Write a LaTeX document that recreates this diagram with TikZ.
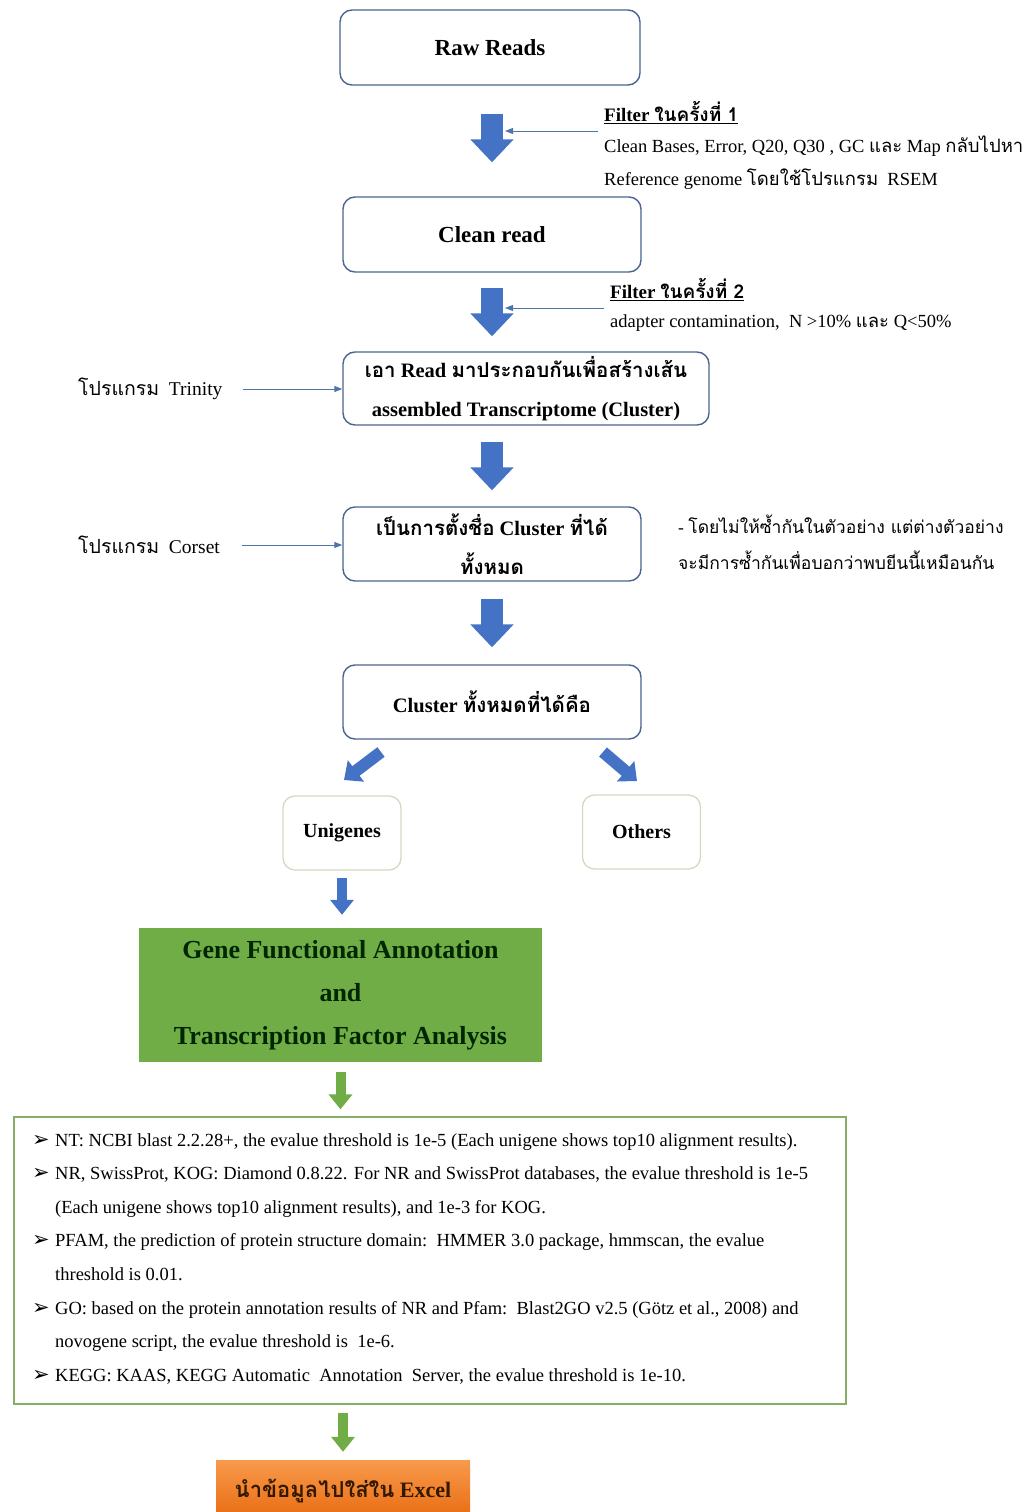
\documentclass[tikz,border=0pt]{standalone}
\usepackage{fontspec}
\setmainfont{Liberation Serif}
\newfontfamily\thai[Script=Thai]{Loma}
\newfontfamily\dingfont{DejaVu Sans}
\usetikzlibrary{positioning,arrows.meta}

\definecolor{boxline}{HTML}{4A6591}
\definecolor{blockblue}{HTML}{4472C4}
\definecolor{thinblue}{HTML}{4F74AA}
\definecolor{paleline}{HTML}{CFDCC2}
\definecolor{annogreen}{HTML}{70AD47}
\definecolor{listline}{HTML}{86AE66}
\definecolor{ortop}{HTML}{F89A4C}
\definecolor{orbot}{HTML}{E8690E}

\newcommand{\bul}{\makebox[23pt][l]{\dingfont\fontsize{21}{21}\selectfont ➢}}

\tikzset{
  flowbox/.style={draw=boxline, line width=1.4pt, rounded corners=12pt, fill=white,
    align=center, inner sep=0pt, font=\bfseries\fontsize{20.5}{38.5}\selectfont},
  palebox/.style={draw=paleline, line width=1.3pt, rounded corners=12pt, fill=white,
    minimum width=118pt, minimum height=74pt, font=\bfseries\fontsize{20}{24}\selectfont},
  blkarrow/.style={draw=blockblue, line width=22pt, -{Triangle[length=23pt,width=42pt]}},
  diagarrow/.style={draw=blockblue, line width=12pt, -{Triangle[length=15pt,width=26pt]}},
  smallarrow/.style={line width=10pt, -{Triangle[length=15pt,width=23pt]}},
  thinarr/.style={draw=thinblue, line width=1pt, -{Triangle[length=8pt,width=6pt]}},
  label/.style={anchor=west, inner sep=0pt, font=\fontsize{18.5}{22}\selectfont}
}

\begin{document}
\begin{tikzpicture}[x=1pt,y=-1pt]
  \useasboundingbox (0,0) rectangle (1029,1512);

  % main column
  \node[flowbox, minimum width=300pt, minimum height=75pt, font=\bfseries\fontsize{23}{26}\selectfont] (raw) at (490,47.5) {Raw Reads};
  \node[flowbox, minimum width=298pt, minimum height=75pt, font=\bfseries\fontsize{23}{26}\selectfont] (clean) at (492,234.5) {Clean read};
  \node[flowbox, minimum width=366pt, minimum height=73pt] (asm) at (526,388.5)
    {{\thai เอา} Read {\thai มาประกอบกันเพื่อสร้างเส้น}\\assembled Transcriptome (Cluster)};
  \node[flowbox, minimum width=298pt, minimum height=74pt] (clus) at (492,544)
    {{\thai เป็นการตั้งชื่อ} Cluster {\thai ที่ได้}\\{\thai ทั้งหมด}};
  \node[flowbox, minimum width=298pt, minimum height=74pt] (all) at (492,702)
    {Cluster {\thai ทั้งหมดที่ได้คือ}};
  \node[palebox] (uni) at (342,833) {Unigenes};
  \node[palebox] (oth) at (641.5,832) {Others};
  \node[fill=annogreen, minimum width=403pt, minimum height=134pt, align=center, inner sep=0pt,
    text={black!85!green}, font=\bfseries\fontsize{26}{43}\selectfont] (anno) at (340.5,995)
    {Gene Functional Annotation\\and\\Transcription Factor Analysis};
  \node[draw=listline, line width=1.3pt, minimum width=832pt, minimum height=287pt] (tbox) at (430,1260.5) {};
  \node[anchor=north west, align=left, inner sep=0pt, font=\fontsize{18.5}{33.6}\selectfont] (tools) at (32,1133)
    {\bul NT: NCBI blast 2.2.28+, the evalue threshold is 1e-5 (Each unigene shows top10 alignment results).\\
     \bul NR, SwissProt, KOG: Diamond 0.8.22. For NR and SwissProt databases, the evalue threshold is 1e-5\\
     \hspace*{23pt}(Each unigene shows top10 alignment results), and 1e-3 for KOG.\\
     \bul PFAM, the prediction of protein structure domain:\ \ HMMER 3.0 package, hmmscan, the evalue\\
     \hspace*{23pt}threshold is 0.01.\\
     \bul GO: based on the protein annotation results of NR and Pfam:\ \ Blast2GO v2.5 (Götz et al., 2008) and\\
     \hspace*{23pt}novogene script, the evalue threshold is\ \ 1e-6.\\
     \bul KEGG: KAAS, KEGG Automatic\ \ Annotation\ \ Server, the evalue threshold is 1e-10.};
  \node[top color=ortop, bottom color=orbot, minimum width=254pt, minimum height=62pt, inner sep=0pt,
    text={black!80!orange}, font=\bfseries\fontsize{22}{26}\selectfont] (excel) at (343,1491)
    {{\thai นำข้อมูลไปใส่ใน} Excel};

  % block arrows
  \draw[blkarrow, shorten <=28pt, shorten >=34pt] (clean.north |- raw.south) -- (clean.north);
  \draw[blkarrow, shorten <=15pt, shorten >=15pt] (clean.south) -- (clean.south |- asm.north);
  \draw[blkarrow, shorten <=16pt, shorten >=16pt] (clus.north |- asm.south) -- (clus.north);
  \draw[blkarrow, shorten <=17pt, shorten >=17pt] (clus.south) -- (all.north);
  \coordinate (sl1) at (381,752); \coordinate (sl2) at (344,780);
  \coordinate (sr1) at (603,752); \coordinate (sr2) at (637,781);
  \draw[diagarrow] (sl1) -- (sl2);
  \draw[diagarrow] (sr1) -- (sr2);
  \draw[smallarrow, draw=blockblue, shorten <=7pt, shorten >=13pt] (uni.south) -- (uni.south |- anno.north);
  \draw[smallarrow, draw=annogreen, shorten <=10pt, shorten >=7pt] (anno.south) -- (anno.south |- tbox.north);
  \draw[smallarrow, draw=annogreen, shorten <=8pt, shorten >=8pt] (excel.north |- tbox.south) -- (excel.north);

  % filter notes
  \node[label, font=\bfseries\fontsize{19}{22}\selectfont] (f1t) at (604,113) {\underline{Filter {\thai ในครั้งที่ 1}}};
  \node[label] (f1a) at (604,146) {Clean Bases, Error, Q20, Q30 , GC {\thai และ} Map {\thai กลับไปหา}};
  \node[label] (f1b) at (604,179) {Reference genome {\thai โดยใช้โปรแกรม}\ \ RSEM};
  \coordinate (f1s) at (598,131); \coordinate (f1e) at (505,131);
  \draw[thinarr] (f1s) -- (f1e);
  \node[label, font=\bfseries\fontsize{19}{22}\selectfont] (f2t) at (610,290) {\underline{Filter {\thai ในครั้งที่ 2}}};
  \node[label] (f2a) at (610,323) {adapter contamination,\ \ N >10\% {\thai และ} Q<50\%};
  \coordinate (f2s) at (604,308); \coordinate (f2e) at (505,308);
  \draw[thinarr] (f2s) -- (f2e);

  % programs
  \node[label, font=\fontsize{19.5}{22}\selectfont] (trin) at (78,389) {{\thai โปรแกรม}\ \ Trinity};
  \node[label, font=\fontsize{19.5}{22}\selectfont] (cors) at (78,545) {{\thai โปรแกรม}\ \ Corset};
  \draw[thinarr, shorten <=20pt] (trin.east) -- (trin.east -| asm.west);
  \draw[thinarr, shorten <=22pt] (cors.east) -- (cors.east -| clus.west);
  \node[label, align=left, font=\fontsize{17.5}{36}\selectfont] (note) at (678,542)
    {- {\thai โดยไม่ให้ซ้ำกันในตัวอย่าง แต่ต่างตัวอย่าง}\\{\thai จะมีการซ้ำกันเพื่อบอกว่าพบยีนนี้เหมือนกัน}};
\end{tikzpicture}
\end{document}
